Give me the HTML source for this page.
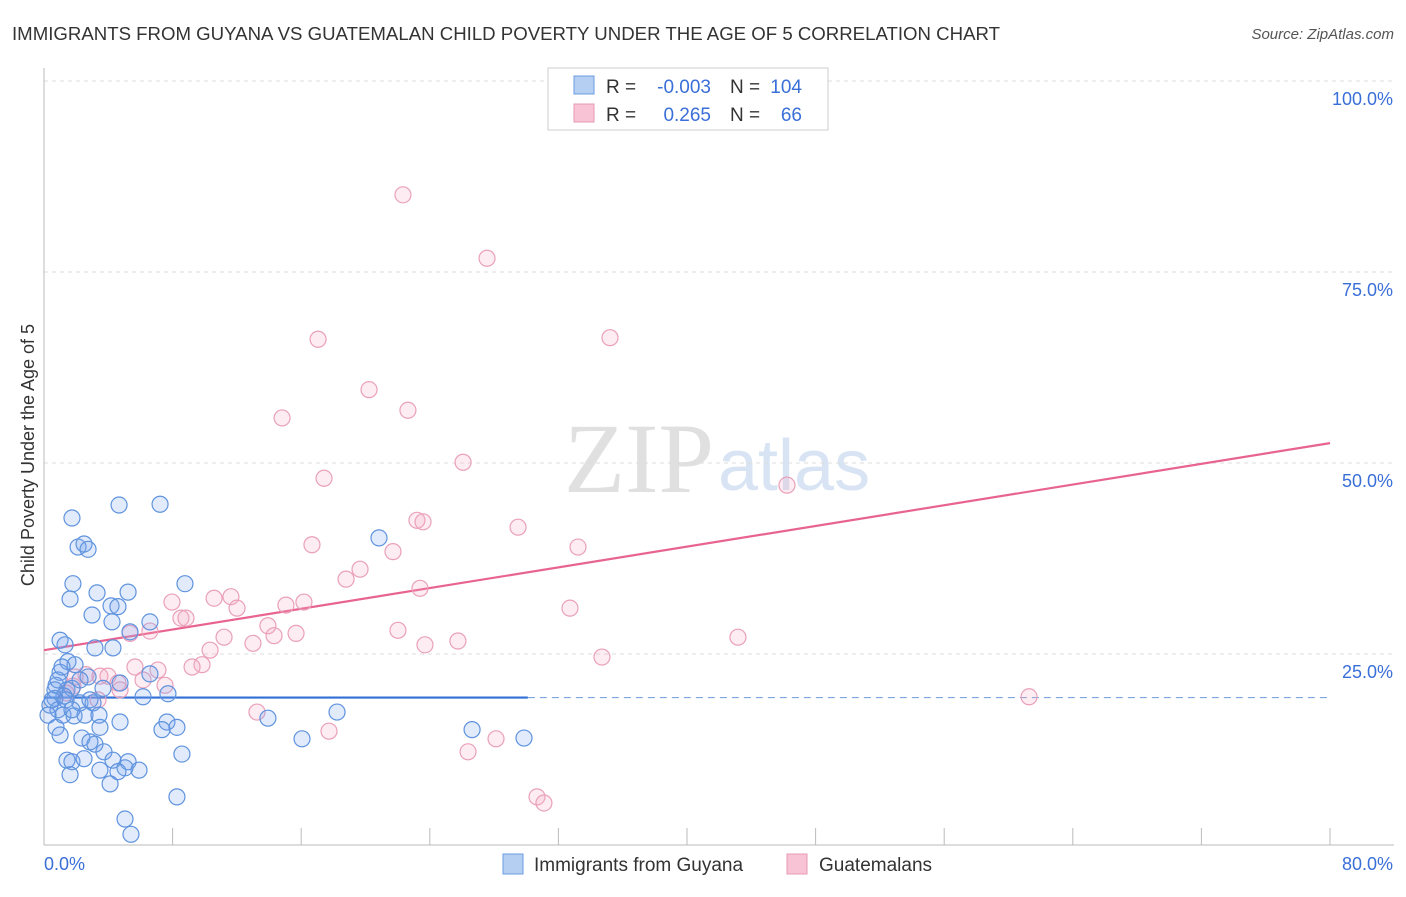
<!DOCTYPE html>
<html><head><meta charset="utf-8">
<style>
body{margin:0;background:#fff;font-family:"Liberation Sans",sans-serif;}
svg text{font-family:"Liberation Sans",sans-serif;}
</style></head>
<body>
<svg id="chart" width="1406" height="892" viewBox="0 0 1406 892">
<text x="12" y="40" font-size="18" fill="#333" textLength="988" lengthAdjust="spacingAndGlyphs">IMMIGRANTS FROM GUYANA VS GUATEMALAN CHILD POVERTY UNDER THE AGE OF 5 CORRELATION CHART</text>
<text x="1394" y="39" font-size="15" fill="#555" text-anchor="end" font-style="italic">Source: ZipAtlas.com</text>
<text transform="translate(34,455) rotate(-90)" font-size="18" fill="#333" text-anchor="middle">Child Poverty Under the Age of 5</text>
<text x="714" y="492" font-size="100" fill="#e0e0e0" text-anchor="end" style="font-family:'Liberation Serif',serif">ZIP</text>
<text x="718" y="490" font-size="72" fill="#d8e4f4">atlas</text>
<g id="grid"></g><g id="axes"></g><g id="lines"></g><g id="pts"></g>
<g>
<rect x="548" y="68" width="280" height="62" fill="#fff" stroke="#ccc"/>
<rect x="574" y="76" width="20" height="18" fill="#b5cff3" stroke="#6b9be0"/>
<rect x="574" y="104" width="20" height="18" fill="#f8c4d5" stroke="#e898b3"/>
<text x="606" y="93" font-size="19" fill="#333">R =</text>
<text x="711" y="93" font-size="19" fill="#3a6fd8" text-anchor="end">-0.003</text>
<text x="730" y="93" font-size="19" fill="#333">N =</text>
<text x="802" y="93" font-size="19" fill="#3a6fd8" text-anchor="end">104</text>
<text x="606" y="121" font-size="19" fill="#333">R =</text>
<text x="711" y="121" font-size="19" fill="#3a6fd8" text-anchor="end">0.265</text>
<text x="730" y="121" font-size="19" fill="#333">N =</text>
<text x="802" y="121" font-size="19" fill="#3a6fd8" text-anchor="end">66</text>
</g>
<g>
<rect x="503" y="854" width="20" height="20" fill="#b5cff3" stroke="#6b9be0"/>
<text x="534" y="871" font-size="19" fill="#333">Immigrants from Guyana</text>
<rect x="787" y="854" width="20" height="20" fill="#f8c4d5" stroke="#e898b3"/>
<text x="819" y="871" font-size="19" fill="#333">Guatemalans</text>
</g>
</svg>
<script>
const xTicks=[0,8,16,24,32,40,48,56,64,72,80];
const yTicks=[25,50,75,100];
const yTickLabels=["25.0%","50.0%","75.0%","100.0%"];
const xEndLabels=["0.0%","80.0%"];
const blueX=[1.74,4.67,7.22,2.12,2.49,2.74,20.84,1.80,1.62,3.30,5.23,8.77,4.17,4.60,2.99,4.23,6.59,5.35,1.0,1.31,3.17,4.29,1.49,1.93,1.0,2.74,6.59,4.73,0.75,1.43,1.74,3.67,6.16,7.71,1.24,2.24,3.05,0.68,0.37,0.87,1.18,1.87,2.55,3.42,4.73,7.65,8.27,7.34,3.48,0.75,13.93,18.23,26.63,29.86,16.05,2.36,3.17,2.86,3.73,4.29,1.43,1.74,2.49,5.23,5.91,5.04,3.48,4.60,1.62,4.11,8.58,8.27,5.04,5.41,1.0,0.5,0.25,1.37,1.74,0.68,0.87,1.12,2.24,2.86];
const blueY=[42.8,44.5,44.6,39.0,39.4,38.7,40.2,34.2,32.2,33.0,33.1,34.2,31.3,31.2,30.1,29.2,29.2,27.9,26.8,26.2,25.8,25.8,24.0,23.6,22.6,22.0,22.4,21.2,20.9,20.3,20.5,20.5,19.4,19.8,19.5,18.6,18.6,19.2,18.3,17.7,17.0,16.9,17.0,17.0,16.1,16.1,15.4,15.1,15.4,15.4,16.6,17.4,15.1,14.0,13.9,14.0,13.2,13.5,12.2,11.1,11.1,10.9,11.3,10.9,9.8,10.1,9.8,9.6,9.2,8.0,11.9,6.3,3.4,1.4,14.4,19.0,17.0,19.0,17.7,20.3,21.6,23.3,21.6,19.0];
const pinkX=[22.33,27.56,17.05,35.21,20.22,22.64,14.81,26.07,17.42,46.22,23.2,23.58,29.49,16.67,21.71,33.22,19.66,18.79,23.39,7.96,10.58,11.63,12.01,15.05,16.17,32.72,8.52,8.83,5.35,6.59,13.93,15.68,11.2,13.0,22.02,23.7,25.75,43.17,14.31,10.33,34.71,5.66,7.09,9.83,9.21,3.48,3.98,2.61,4.6,7.53,6.16,1.8,4.73,13.25,17.73,26.38,28.12,30.67,31.1,61.28,1.37,1.93,3.36];
const pinkY=[85.1,76.8,66.2,66.4,59.6,56.9,55.9,50.1,48.0,47.1,42.5,42.3,41.6,39.3,38.4,39.0,36.1,34.8,33.6,31.8,32.3,32.5,31.0,31.4,31.8,31.0,29.7,29.7,27.7,28.0,28.7,27.7,27.2,26.4,28.1,26.2,26.7,27.2,27.4,25.5,24.6,23.3,22.9,23.6,23.3,22.1,22.1,22.3,21.2,20.9,21.6,20.8,20.3,17.4,14.9,12.2,13.9,6.3,5.5,19.4,19.9,22.0,19.0];
const blueFit=[19.3,19.3];
const blueSolidEnd=30.1;
const pinkFit=[25.5,52.6];
const NS="http://www.w3.org/2000/svg";
const X=v=>44+v*(1330-44)/80;
const Y=v=>845-v*7.64;
function mk(tag,attrs,parent){const e=document.createElementNS(NS,tag);for(const k in attrs)e.setAttribute(k,attrs[k]);parent.appendChild(e);return e;}
const grid=document.getElementById('grid'),axes=document.getElementById('axes'),lines=document.getElementById('lines'),pts=document.getElementById('pts');
yTicks.forEach((t,i)=>{
 const l=mk('line',{x1:44,x2:1394,y1:Y(t),y2:Y(t),stroke:'#ddd','stroke-dasharray':'4,4'},grid);
 
 
 const tx=mk('text',{x:1393,y:Y(t)+24,'font-size':18,fill:'#3a6fd8','text-anchor':'end'},axes);
 tx.textContent=yTickLabels[i];
 
 
});
const ax=mk('line',{x1:44,x2:1394,y1:845,y2:845,stroke:'#bbb'},axes);


const ay=mk('line',{x1:44,x2:44,y1:68,y2:845,stroke:'#bbb'},axes);


xTicks.forEach(t=>{
 const l=mk('line',{x1:X(t),x2:X(t),y1:828,y2:845,stroke:'#bbb'},axes);
 
 
});
const xl0=mk('text',{x:44,y:870,'font-size':18,fill:'#3a6fd8'},axes);xl0.textContent=xEndLabels[0];


const xl1=mk('text',{x:1393,y:870,'font-size':18,fill:'#3a6fd8','text-anchor':'end'},axes);xl1.textContent=xEndLabels[1];


function draw(xs,ys,fill,stroke,name){xs.forEach((x,i)=>{
 const c=mk('circle',{cx:X(x),cy:Y(ys[i]),r:8,fill:fill,stroke:stroke,'stroke-width':1.2},pts);
 
 
});}
draw(pinkX,pinkY,'rgba(244,170,196,0.22)','#eaa0ba','guatemalans-point');
draw(blueX,blueY,'rgba(120,165,235,0.22)','#5f93de','guyana-point');
const bf=v=>blueFit[0]+(blueFit[1]-blueFit[0])*v/80;
const b1=mk('line',{x1:X(0),y1:Y(bf(0)),x2:X(blueSolidEnd),y2:Y(bf(blueSolidEnd)),stroke:'#2f6fd6','stroke-width':2.2},lines);


const b2=mk('line',{x1:X(blueSolidEnd),y1:Y(bf(blueSolidEnd)),x2:X(80),y2:Y(bf(80)),stroke:'#7fa6e0','stroke-width':1.2,'stroke-dasharray':'7,5'},lines);


const p1=mk('line',{x1:X(0),y1:Y(pinkFit[0]),x2:X(80),y2:Y(pinkFit[1]),stroke:'#e8648f','stroke-width':2.2},lines);


</script>
</body></html>
